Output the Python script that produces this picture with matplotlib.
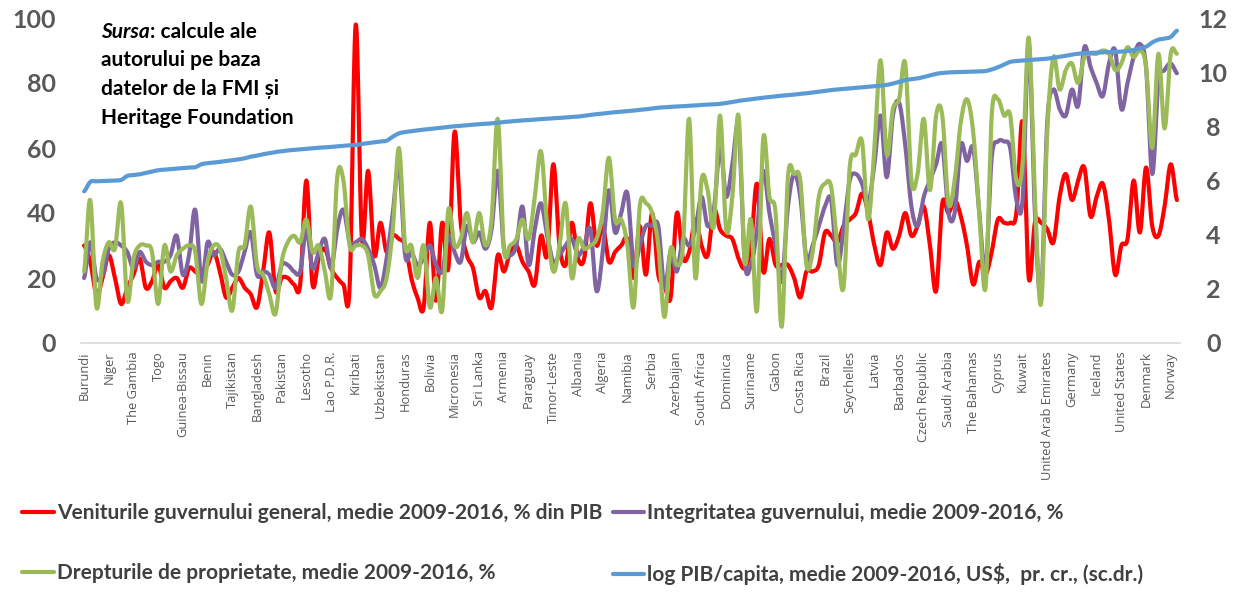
import numpy as np
from matplotlib import pyplot as plt

# every 4th country is labelled on the category axis
labels = ["Burundi", "Niger", "The Gambia", "Togo", "Guinea-Bissau", "Benin",
          "Tajikistan", "Bangladesh", "Pakistan", "Lesotho", "Lao P.D.R.",
          "Kiribati", "Uzbekistan", "Honduras", "Bolivia", "Micronesia",
          "Sri Lanka", "Armenia", "Paraguay", "Timor-Leste", "Albania",
          "Algeria", "Namibia", "Serbia", "Azerbaijan", "South Africa",
          "Dominica", "Suriname", "Gabon", "Costa Rica", "Brazil",
          "Seychelles", "Latvia", "Barbados", "Czech Republic",
          "Saudi Arabia", "The Bahamas", "Cyprus", "Kuwait",
          "United Arab Emirates", "Germany", "Iceland", "United States",
          "Denmark", "Norway"]
label_step = 4

revenue = [
    30, 25, 15, 20, 27, 20, 12, 17, 21, 26,
    17, 19, 24, 17, 19, 20, 17, 23, 22, 21,
    24, 28, 22, 14, 17, 20, 17, 15, 11, 22,
    34, 16, 20, 20, 18, 18, 50, 18, 26, 29,
    23, 20, 18, 17, 98, 32, 53, 27, 37, 28,
    33, 32, 30, 20, 14, 11, 37, 13, 37, 23,
    65, 37, 27, 23, 14, 16, 11, 27, 22, 28,
    30, 25, 22, 18, 33, 27, 55, 30, 24, 37,
    26, 26, 43, 30, 36, 25, 28, 30, 32, 20,
    36, 21, 40, 21, 18, 14, 40, 26, 28, 38,
    30, 27, 41, 35, 33, 32, 26, 23, 30, 49,
    22, 32, 24, 24, 24, 20, 14, 22, 22, 24,
    34, 33, 31, 36, 38, 40, 46, 40, 30, 24,
    34, 29, 33, 40, 33, 36, 42, 30, 16, 43,
    40, 44, 39, 30, 18, 25, 21, 28, 38, 37,
    37, 40, 68, 20, 37, 37, 35, 31, 45, 52,
    44, 50, 54, 39, 45, 49, 38, 21, 30, 32,
    50, 34, 54, 36, 33, 42, 55, 44]

integrity = [
    20, 31, 20, 21, 29, 31, 30, 28, 23, 28,
    25, 24, 25, 25, 27, 33, 21, 27, 41, 19,
    31, 27, 29, 25, 21, 22, 28, 34, 21, 22,
    21, 17, 24, 24, 22, 22, 35, 23, 28, 32,
    23, 35, 41, 31, 31, 32, 29, 24, 17, 26,
    40, 55, 27, 28, 24, 26, 30, 24, 22, 33,
    28, 25, 36, 31, 34, 29, 35, 53, 29, 27,
    30, 42, 24, 35, 43, 33, 25, 27, 30, 32,
    27, 30, 35, 16, 28, 47, 34, 40, 46, 24,
    30, 36, 36, 36, 17, 28, 22, 32, 30, 35,
    45, 36, 41, 60, 45, 55, 66, 25, 24, 35,
    53, 40, 30, 19, 42, 52, 45, 26, 30, 36,
    42, 44, 24, 35, 50, 52, 49, 43, 55, 70,
    51, 70, 74, 61, 42, 36, 45, 50, 55, 61,
    40, 40, 61, 56, 60, 40, 22, 57, 62, 62,
    60, 44, 44, 92, 40, 15, 68, 78, 72, 70,
    78, 73, 91, 85, 80, 76, 86, 90, 72, 80,
    88, 92, 85, 52, 80, 84, 86, 83]

property_rights = [
    22, 44, 11, 25, 31, 29, 43, 13, 26, 30,
    30, 28, 12, 30, 22, 27, 29, 30, 28, 12,
    25, 30, 29, 20, 10, 28, 30, 42, 24, 21,
    15, 9, 25, 31, 33, 31, 38, 28, 30, 22,
    15, 51, 50, 30, 30, 30, 27, 15, 16, 20,
    35, 60, 30, 30, 20, 30, 11, 20, 10, 41,
    30, 32, 40, 31, 40, 30, 38, 69, 29, 30,
    32, 38, 32, 45, 59, 36, 22, 30, 43, 20,
    32, 29, 30, 32, 40, 57, 38, 38, 30, 11,
    42, 43, 40, 30, 8, 29, 24, 30, 69, 20,
    50, 47, 36, 70, 35, 45, 70, 25, 38, 10,
    63, 45, 40, 5, 51, 52, 50, 24, 28, 45,
    49, 48, 30, 17, 54, 58, 62, 38, 60, 87,
    58, 72, 75, 86, 50, 52, 69, 47, 70, 70,
    43, 50, 68, 75, 65, 40, 17, 70, 75, 70,
    70, 50, 55, 94, 45, 12, 65, 88, 78, 84,
    86, 80, 88, 89, 89, 90, 89, 84, 86, 91,
    88, 90, 85, 60, 89, 66, 89, 89]

log_gdp = [
    5.60, 5.95, 5.97, 5.98, 5.99, 6.00, 6.02, 6.17, 6.20, 6.23,
    6.28, 6.33, 6.38, 6.40, 6.42, 6.44, 6.46, 6.48, 6.49, 6.60,
    6.64, 6.66, 6.69, 6.72, 6.75, 6.78, 6.82, 6.88, 6.92, 6.97,
    7.01, 7.05, 7.08, 7.11, 7.13, 7.15, 7.17, 7.19, 7.21, 7.22,
    7.24, 7.26, 7.28, 7.30, 7.31, 7.35, 7.38, 7.41, 7.44, 7.47,
    7.62, 7.74, 7.79, 7.82, 7.85, 7.88, 7.90, 7.93, 7.95, 7.98,
    8.00, 8.02, 8.04, 8.06, 8.08, 8.09, 8.11, 8.13, 8.16, 8.18,
    8.20, 8.22, 8.23, 8.25, 8.27, 8.28, 8.30, 8.31, 8.33, 8.35,
    8.36, 8.39, 8.42, 8.45, 8.47, 8.50, 8.52, 8.54, 8.56, 8.58,
    8.61, 8.63, 8.66, 8.69, 8.70, 8.72, 8.73, 8.74, 8.76, 8.77,
    8.79, 8.80, 8.81, 8.83, 8.86, 8.90, 8.94, 8.97, 9.00, 9.03,
    9.06, 9.08, 9.11, 9.13, 9.15, 9.17, 9.20, 9.22, 9.25, 9.28,
    9.31, 9.34, 9.36, 9.38, 9.40, 9.42, 9.44, 9.46, 9.48, 9.50,
    9.53, 9.58, 9.64, 9.71, 9.74, 9.77, 9.82, 9.88, 9.94, 9.97,
    9.99, 10.00, 10.01, 10.02, 10.02, 10.03, 10.04, 10.10, 10.18, 10.28,
    10.38, 10.41, 10.43, 10.45, 10.47, 10.48, 10.50, 10.53, 10.57, 10.61,
    10.65, 10.68, 10.70, 10.71, 10.72, 10.73, 10.74, 10.75, 10.76, 10.78,
    10.82, 10.88, 10.94, 11.10, 11.20, 11.24, 11.30, 11.53]

legend_labels = [
    "Veniturile guvernului general, medie 2009-2016, % din PIB",
    "Integritatea guvernului, medie 2009-2016, %",
    "Drepturile de proprietate, medie 2009-2016, %",
    "log PIB/capita, medie 2009-2016, US$,  pr. cr., (sc.dr.)",
]
colors = ["#FF0000", "#8064A2", "#9BBB59", "#5B9BD5"]
grey = "#595959"


def smooth(values, steps=12):
    # Catmull-Rom curve through the points, like Excel's smoothed line
    y = np.asarray(values, dtype=float)
    p = np.concatenate([[y[0]], y, [y[-1]]])
    t = np.linspace(0, 1, steps, endpoint=False)
    xs, ys = [], []
    for i in range(len(y) - 1):
        p0, p1, p2, p3 = p[i], p[i + 1], p[i + 2], p[i + 3]
        seg = 0.5 * (2 * p1 + (p2 - p0) * t
                     + (2 * p0 - 5 * p1 + 4 * p2 - p3) * t ** 2
                     + (3 * p1 - p0 - 3 * p2 + p3) * t ** 3)
        xs.append(i + t)
        ys.append(seg)
    xs.append([len(y) - 1])
    ys.append([y[-1]])
    return np.concatenate(xs), np.concatenate(ys)


n = len(log_gdp)
W, H = 1244, 605
fig = plt.figure(figsize=(W / 100, H / 100), dpi=100)
ax = fig.add_axes([81 / W, 262 / H, 1099 / W, 325 / H])
ax2 = ax.twinx()

lw = 3.0
lines = []
for series, c, lab in zip([revenue, integrity, property_rights], colors[:3], legend_labels[:3]):
    xs, ys = smooth(series)
    ln, = ax.plot(xs, ys, color=c, lw=lw, solid_capstyle="round", label=lab)
    lines.append(ln)
xs, ys = smooth(log_gdp)
ln, = ax2.plot(xs, ys, color=colors[3], lw=lw, solid_capstyle="round", label=legend_labels[3])
lines.append(ln)

ax.set_xlim(-0.5, n - 0.5)
ax.set_ylim(0, 100)
ax2.set_ylim(0, 12)

ax.set_xticks(range(0, n, label_step)[:len(labels)], labels, rotation=90,
              fontsize=9.3, color=grey, family="Open Sans")
ax.set_yticks(range(0, 101, 20), [str(v) for v in range(0, 101, 20)],
              fontsize=18, fontweight="bold", color=grey, family="Lato")
ax2.set_yticks(range(0, 13, 2), [str(v) for v in range(0, 13, 2)],
               fontsize=18, fontweight="bold", color=grey, family="Lato")
for lbl in ax2.get_yticklabels():
    lbl.set_horizontalalignment("center")

ax.tick_params(axis="x", length=0, pad=6)
ax.tick_params(axis="y", length=0, pad=18)
ax2.tick_params(axis="y", length=0, pad=24)

for s in ["top", "left", "right"]:
    ax.spines[s].set_visible(False)
ax.spines["bottom"].set_color("#D9D9D9")
ax.spines["bottom"].set_linewidth(1.2)
for s in ax2.spines.values():
    s.set_visible(False)

# source note
note_kw = dict(fontsize=15, fontweight="bold", color="black", family="Lato",
               va="baseline", ha="left")
t1 = fig.text(101 / W, 1 - 38 / H, "Sursa", style="italic", **note_kw)
ax.annotate(": calcule ale", xy=(1, 0), xycoords=t1, va="bottom", ha="left",
            fontsize=15, fontweight="bold", color="black", family="Lato",
            annotation_clip=False)
for k, txt in enumerate(["autorului pe baza", "datelor de la FMI și",
                         "Heritage Foundation"]):
    fig.text(101 / W, 1 - (66.5 + 28.5 * k) / H, txt, **note_kw)

order = [lines[0], lines[2], lines[1], lines[3]]
fig.legend(order, [l.get_label() for l in order], ncol=2, loc="upper left",
           bbox_to_anchor=(14 / W, 1 - 495 / H), frameon=False,
           prop=dict(family="Lato", weight="bold", size=15.0),
           labelcolor="#404040", handlelength=1.5, handletextpad=0.15,
           columnspacing=0.5, labelspacing=1.9, borderaxespad=0)

fig.savefig("out.png", dpi=100)
